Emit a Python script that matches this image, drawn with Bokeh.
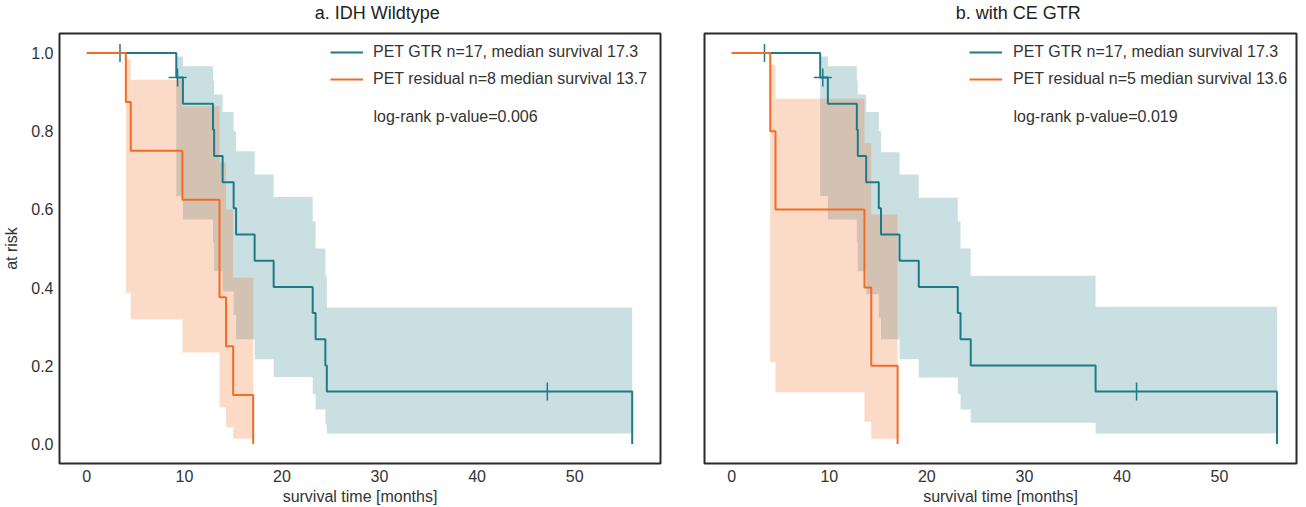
from bokeh.plotting import figure
from bokeh.layouts import row, column
from bokeh.models import Range1d, FixedTicker, Legend, LegendItem, Label, PrintfTickFormatter
from bokeh.core.properties import value
from bokeh.embed import file_html
from bokeh.resources import INLINE

# ---------------- data ----------------
# Panel a: IDH wildtype
a_gtr_t = [0, 9.17, 9.85, 12.93, 13.05, 13.92, 15.05, 15.3, 17.2, 19.15, 23.15, 23.45, 24.45, 24.6, 55.9]
a_gtr_s = [1.0, 0.9375, 0.8705, 0.8036, 0.7366, 0.6696, 0.6027, 0.5357, 0.4688, 0.4018, 0.3348, 0.2679, 0.2009, 0.1339, 0.0]
a_gtr_lo = [1.0, 0.634, 0.574, 0.515, 0.442, 0.39, 0.33, 0.268, 0.217, 0.171, 0.128, 0.088, 0.05, 0.027, 0.027]
a_gtr_hi = [1.0, 0.991, 0.966, 0.93, 0.894, 0.849, 0.80, 0.749, 0.689, 0.632, 0.570, 0.500, 0.43, 0.349, 0.349]
a_gtr_cens_t = [3.4, 47.2]
a_gtr_cens_s = [1.0, 0.1339]
a_gtr_cross_t = [9.3]
a_gtr_cross_s = [0.9375]

a_res_t = [0, 4.0, 4.5, 9.8, 13.6, 14.27, 15.0, 17.05]
a_res_s = [1.0, 0.875, 0.75, 0.625, 0.375, 0.25, 0.125, 0.0]
a_res_lo = [1.0, 0.387, 0.319, 0.234, 0.094, 0.043, 0.013, 0.013]
a_res_hi = [1.0, 0.983, 0.932, 0.864, 0.72, 0.60, 0.425, 0.425]

# Panel b: with CE GTR
b_gtr_t = [0, 9.06, 9.85, 12.82, 12.92, 13.78, 15.07, 15.3, 17.2, 19.17, 23.17, 23.45, 24.5, 37.3, 55.9]
b_gtr_s = [1.0, 0.9375, 0.8705, 0.8036, 0.7366, 0.6696, 0.6027, 0.5357, 0.4688, 0.4018, 0.3348, 0.2679, 0.2009, 0.1339, 0.0]
b_gtr_lo = [1.0, 0.634, 0.574, 0.515, 0.442, 0.383, 0.323, 0.268, 0.217, 0.170, 0.128, 0.088, 0.054, 0.027, 0.027]
b_gtr_hi = [1.0, 0.991, 0.966, 0.93, 0.894, 0.849, 0.80, 0.746, 0.689, 0.630, 0.570, 0.500, 0.430, 0.351, 0.351]
b_gtr_cens_t = [3.35, 41.5]
b_gtr_cens_s = [1.0, 0.1339]
b_gtr_cross_t = [9.33]
b_gtr_cross_s = [0.9375]

b_res_t = [0, 3.94, 4.48, 13.6, 14.3, 17.0]
b_res_s = [1.0, 0.8, 0.6, 0.4, 0.2, 0.0]
b_res_lo = [1.0, 0.209, 0.132, 0.057, 0.013, 0.013]
b_res_hi = [1.0, 0.970, 0.883, 0.77, 0.587, 0.587]

titles = ["a. IDH Wildtype", "b. with CE GTR"]
legend_a = ["PET GTR n=17, median survival 17.3", "PET residual n=8 median survival 13.7"]
legend_b = ["PET GTR n=17, median survival 17.3", "PET residual n=5 median survival 13.6"]
pvals = ["log-rank p-value=0.006", "log-rank p-value=0.019"]
x_ticks = [0, 10, 20, 30, 40, 50]
y_ticks = [0.0, 0.2, 0.4, 0.6, 0.8, 1.0]

# ---------------- style ----------------
TEAL = "#1d7b87"
ORANGE = "#f36c25"
FONT = "Liberation Sans"
FS = "16px"
TXT = "#333333"
FRAME_H = 430
TITLE_H = 25


def title_strip(text, left_border, frame_w, right_border):
    w = left_border + frame_w + right_border
    t = figure(width=w, height=TITLE_H, x_range=Range1d(0, w), y_range=Range1d(0, TITLE_H),
               output_backend="svg", toolbar_location=None,
               min_border_left=0, min_border_right=0, min_border_top=0, min_border_bottom=0)
    t.axis.visible = False
    t.grid.visible = False
    t.outline_line_color = None
    t.text(x=[left_border + frame_w / 2], y=[TITLE_H - 12], text=[text],
           text_font=value(FONT), text_font_size="18px", text_color="#222222",
           text_align="center", text_baseline="middle")
    return t


def panel(gtr, res, labels, ptext, xmax, frame_w, left_border, right_border, show_y, leg_x, lab_x):
    p = figure(frame_width=frame_w, frame_height=FRAME_H,
               x_range=Range1d(-2.8, xmax), y_range=Range1d(-0.05, 1.05),
               output_backend="svg", toolbar_location=None,
               min_border_left=left_border, min_border_right=right_border,
               min_border_top=8, min_border_bottom=40)
    p.grid.visible = False
    p.outline_line_color = "#2a2a2a"
    p.outline_line_width = 2
    p.outline_line_alpha = 1.0
    p.background_fill_color = "white"
    p.border_fill_color = "white"

    for ax in (p.xaxis[0], p.yaxis[0]):
        ax.axis_line_color = None
        ax.major_tick_line_color = None
        ax.minor_tick_line_color = None
        ax.major_tick_out = 0
        ax.major_tick_in = 0
        ax.minor_tick_out = 0
        ax.major_label_text_font = FONT
        ax.major_label_text_font_size = FS
        ax.major_label_text_color = TXT
        ax.axis_label_text_font = FONT
        ax.axis_label_text_font_size = FS
        ax.axis_label_text_font_style = "normal"
        ax.axis_label_text_color = TXT
    p.xaxis.ticker = FixedTicker(ticks=x_ticks)
    p.xaxis.major_label_standoff = 6
    p.xaxis.axis_label = "survival time [months]"
    p.xaxis.axis_label_standoff = 3
    p.yaxis.ticker = FixedTicker(ticks=y_ticks)
    p.yaxis.formatter = PrintfTickFormatter(format="%.1f")
    p.yaxis.major_label_standoff = 6
    if show_y:
        p.yaxis.axis_label = "at risk"
        p.yaxis.axis_label_standoff = 8
    else:
        p.yaxis.visible = False

    (gt, gs, glo, ghi, ct, cs, xt, xs) = gtr
    (rt, rs, rlo, rhi) = res

    p.varea_step(x=gt, y1=glo, y2=ghi, step_mode="after", fill_color=TEAL, fill_alpha=0.24)
    p.varea_step(x=rt, y1=rlo, y2=rhi, step_mode="after", fill_color=ORANGE, fill_alpha=0.25)

    r_g = p.step(x=gt, y=gs, mode="after", line_color=TEAL, line_width=2)
    p.scatter(x=ct, y=cs, marker="dash", angle=1.5708, size=18, line_color=TEAL, line_width=1.5)
    p.scatter(x=xt, y=xs, marker="cross", size=18, line_color=TEAL, line_width=1.5)
    r_r = p.step(x=rt, y=rs, mode="after", line_color=ORANGE, line_width=2)

    leg = Legend(items=[LegendItem(label=labels[0], renderers=[r_g]),
                        LegendItem(label=labels[1], renderers=[r_r])],
                 location=(leg_x, 374), orientation="vertical",
                 glyph_width=33, glyph_height=20, label_height=20, label_standoff=lab_x,
                 spacing=7, padding=0, margin=0,
                 border_line_color=None, background_fill_alpha=0,
                 label_text_font=FONT, label_text_font_size=FS, label_text_color=TXT)
    p.add_layout(leg)

    p.add_layout(Label(x=leg_x + 33 + lab_x, y=347, x_units="screen", y_units="screen",
                       text=ptext, text_font=FONT, text_font_size=FS, text_color=TXT,
                       text_baseline="middle"))
    return p


p1 = panel((a_gtr_t, a_gtr_s, a_gtr_lo, a_gtr_hi, a_gtr_cens_t, a_gtr_cens_s, a_gtr_cross_t, a_gtr_cross_s),
           (a_res_t, a_res_s, a_res_lo, a_res_hi),
           legend_a, pvals[0], 58.8, 601, 51, 4, True, 271, 10)
p2 = panel((b_gtr_t, b_gtr_s, b_gtr_lo, b_gtr_hi, b_gtr_cens_t, b_gtr_cens_s, b_gtr_cross_t, b_gtr_cross_s),
           (b_res_t, b_res_s, b_res_lo, b_res_hi),
           legend_b, pvals[1], 57.9, 592, 40, 2, False, 265, 11)
t1 = title_strip(titles[0], 51, 601, 4)
t2 = title_strip(titles[1], 40, 592, 2)

layout = row(column(t1, p1), column(t2, p2))
open("out.html", "w").write(file_html(layout, INLINE))
